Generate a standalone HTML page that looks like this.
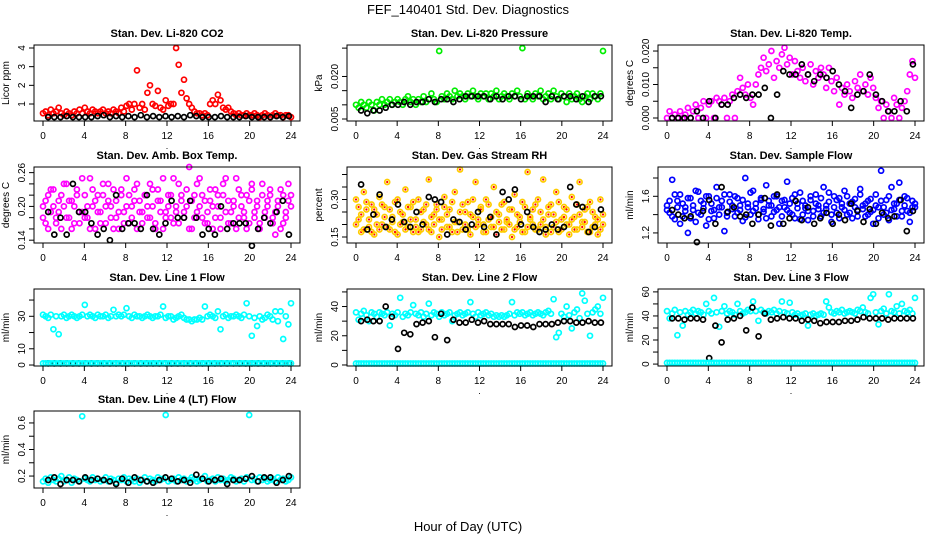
<!DOCTYPE html>
<html><head><meta charset="utf-8"><style>
html,body{margin:0;padding:0;background:#fff;}
svg{display:block;font-family:"Liberation Sans",sans-serif;}
</style></head><body>
<svg id="chart" width="936" height="540" viewBox="0 0 936 540">
<text x="468" y="14" text-anchor="middle" font-size="13">FEF_140401  Std. Dev. Diagnostics</text>
<text x="468" y="531" text-anchor="middle" font-size="13">Hour of Day (UTC)</text>
</svg>
<script>
const hourTicks=[0,4,8,12,16,20,24];
const co2Red=[0.5,0.6,0.4,0.7,0.5,0.6,0.8,0.5,0.4,0.6,0.5,0.4,0.6,0.5,0.7,0.5,0.8,0.6,0.5,0.7,0.6,0.5,0.6,0.7,0.5,0.6,0.5,0.7,0.6,0.5,0.8,0.6,0.9,1.0,0.7,1.0,2.8,0.8,1.0,0.7,1.6,2.0,1.0,0.9,1.7,0.8,0.7,1.2,0.9,1.0,1.0,4.0,3.1,1.6,2.3,1.3,1.0,0.8,0.6,0.5,0.5,0.4,0.5,0.4,1.0,1.2,1.0,1.5,1.2,0.8,0.7,0.8,0.6,0.5,0.4,0.5,0.4,0.4,0.5,0.4,0.4,0.5,0.4,0.3,0.4,0.5,0.4,0.3,0.4,0.5,0.4,0.4,0.3,0.4,0.4,0.3];
const co2Black=[0.3,0.3,0.3,0.35,0.3,0.3,0.3,0.3,0.35,0.4,0.3,0.35,0.3,0.35,0.3,0.4,0.3,0.35,0.3,0.35,0.3,0.35,0.3,0.4,0.35,0.3,0.3,0.3,0.35,0.3,0.3,0.3,0.35,0.3,0.3,0.3,0.3,0.35,0.3,0.35];
const presGreen=[0.010,0.009,0.011,0.010,0.009,0.011,0.010,0.008,0.011,0.010,0.012,0.010,0.011,0.012,0.010,0.011,0.012,0.011,0.010,0.012,0.013,0.011,0.012,0.010,0.012,0.011,0.013,0.011,0.012,0.014,0.012,0.011,0.029,0.013,0.012,0.014,0.013,0.012,0.015,0.013,0.014,0.013,0.012,0.014,0.013,0.015,0.013,0.012,0.014,0.013,0.014,0.012,0.014,0.013,0.015,0.012,0.013,0.014,0.013,0.012,0.014,0.013,0.015,0.013,0.030,0.012,0.014,0.013,0.012,0.014,0.013,0.015,0.012,0.013,0.014,0.012,0.015,0.013,0.012,0.014,0.013,0.011,0.014,0.012,0.013,0.014,0.012,0.011,0.013,0.014,0.012,0.014,0.013,0.012,0.014,0.029];
const presBlack=[0.008,0.007,0.008,0.008,0.009,0.010,0.010,0.011,0.010,0.011,0.011,0.012,0.011,0.012,0.012,0.011,0.012,0.013,0.013,0.013,0.013,0.012,0.013,0.012,0.013,0.013,0.012,0.013,0.013,0.013,0.011,0.013,0.012,0.013,0.013,0.012,0.013,0.011,0.013,0.013];
const tempMag=[0.000,0.002,0.000,0.001,0.000,0.002,0.000,0.001,0.003,0.000,0.002,0.004,0.000,0.003,0.005,0.000,0.004,0.005,0.000,0.006,0.005,0.004,0.006,0.000,0.005,0.007,0.000,0.008,0.012,0.009,0.007,0.010,0.006,0.004,0.010,0.013,0.015,0.018,0.014,0.016,0.020,0.012,0.017,0.015,0.019,0.021,0.016,0.018,0.013,0.017,0.014,0.012,0.015,0.011,0.013,0.016,0.010,0.014,0.012,0.015,0.013,0.009,0.015,0.011,0.008,0.012,0.004,0.009,0.007,0.010,0.008,0.006,0.011,0.009,0.013,0.008,0.010,0.007,0.012,0.009,0.006,0.003,0.005,0.000,0.004,0.002,0.000,0.006,0.004,0.000,0.003,0.005,0.008,0.013,0.017,0.012];
const tempBlack=[0,0,0,0,0.002,0,0.005,0,0.004,0.004,0.006,0.007,0.006,0.007,0.007,0.009,0,0.007,0.014,0.013,0.013,0.016,0.013,0.011,0.013,0.012,0.014,0.010,0.008,0.003,0.007,0.008,0.013,0.007,0.005,0.002,0.002,0.005,0.002,0.016];
const ambMagA=[0.20,0.17,0.22,0.19,0.23,0.18,0.21,0.16,0.20,0.24,0.18,0.21,0.17,0.22,0.19,0.25,0.18,0.20,0.16,0.23,0.21,0.19,0.17,0.22,0.20,0.24,0.18,0.16,0.21,0.19,0.23,0.17,0.20,0.22,0.18,0.21,0.24,0.19,0.17,0.22,0.20,0.18,0.23,0.16,0.21,0.19,0.25,0.18,0.20,0.22,0.17,0.19,0.24,0.21,0.18,0.20,0.27,0.16,0.22,0.19,0.25,0.18,0.21,0.17,0.23,0.20,0.18,0.22,0.16,0.24,0.19,0.21,0.17,0.20,0.25,0.18,0.22,0.19,0.16,0.21,0.23,0.18,0.20,0.17,0.24,0.19,0.21,0.22,0.18,0.15,0.20,0.23,0.17,0.19,0.21,0.22];
const ambMagB=[0.18,0.21,0.16,0.23,0.20,0.17,0.19,0.22,0.24,0.18,0.21,0.16,0.20,0.23,0.17,0.19,0.22,0.18,0.25,0.20,0.16,0.22,0.19,0.24,0.17,0.21,0.20,0.23,0.18,0.16,0.22,0.19,0.25,0.17,0.20,0.23,0.16,0.21,0.19,0.22,0.18,0.24,0.20,0.17,0.23,0.21,0.16,0.19,0.22,0.18,0.25,0.20,0.17,0.22,0.19,0.23,0.16,0.21,0.18,0.24,0.20,0.22,0.17,0.19,0.21,0.16,0.23,0.20,0.18,0.22,0.25,0.17,0.19,0.21,0.16,0.23,0.20,0.18,0.22,0.17,0.24,0.19,0.21,0.16,0.22,0.18,0.20,0.23,0.17,0.19,0.21,0.16,0.22,0.18,0.24,0.20];
const ambBlack=[0.19,0.15,0.18,0.15,0.24,0.19,0.19,0.17,0.15,0.16,0.14,0.22,0.16,0.17,0.17,0.16,0.22,0.16,0.15,0.17,0.21,0.18,0.18,0.21,0.18,0.15,0.16,0.15,0.20,0.16,0.17,0.17,0.17,0.13,0.16,0.18,0.17,0.19,0.21,0.15];
const rhA=[0.30,0.22,0.17,0.33,0.26,0.19,0.28,0.16,0.24,0.31,0.20,0.27,0.37,0.18,0.23,0.29,0.16,0.25,0.21,0.34,0.19,0.27,0.17,0.22,0.30,0.18,0.26,0.20,0.38,0.17,0.24,0.28,0.15,0.22,0.31,0.19,0.26,0.17,0.33,0.21,0.42,0.18,0.25,0.29,0.16,0.23,0.37,0.20,0.27,0.17,0.30,0.22,0.19,0.35,0.16,0.24,0.28,0.18,0.21,0.26,0.15,0.32,0.19,0.23,0.29,0.17,0.41,0.22,0.26,0.18,0.30,0.20,0.38,0.16,0.24,0.28,0.19,0.33,0.17,0.22,0.27,0.20,0.16,0.31,0.23,0.18,0.37,0.21,0.26,0.17,0.29,0.19,0.23,0.16,0.30,0.20];
const rhB=[0.20,0.27,0.24,0.18,0.29,0.22,0.17,0.26,0.20,0.18,0.28,0.23,0.19,0.26,0.21,0.17,0.30,0.20,0.24,0.18,0.27,0.22,0.29,0.19,0.17,0.25,0.21,0.28,0.18,0.23,0.20,0.26,0.22,0.18,0.27,0.24,0.19,0.29,0.21,0.17,0.25,0.28,0.20,0.18,0.24,0.30,0.19,0.22,0.26,0.20,0.17,0.28,0.23,0.19,0.25,0.21,0.18,0.29,0.22,0.20,0.26,0.18,0.24,0.21,0.17,0.27,0.19,0.23,0.20,0.28,0.18,0.25,0.22,0.19,0.27,0.17,0.24,0.21,0.29,0.18,0.23,0.26,0.20,0.22,0.18,0.28,0.24,0.19,0.21,0.27,0.17,0.25,0.20,0.22,0.18,0.24];
const rhBlack=[0.36,0.18,0.24,0.32,0.19,0.22,0.28,0.21,0.19,0.25,0.20,0.31,0.30,0.29,0.16,0.22,0.21,0.18,0.20,0.25,0.19,0.23,0.16,0.33,0.30,0.34,0.20,0.25,0.19,0.17,0.18,0.20,0.18,0.19,0.35,0.28,0.27,0.17,0.19,0.26];
const flowBlueA=[1.50,1.42,1.78,1.35,1.55,1.62,1.38,1.48,1.20,1.58,1.45,1.32,1.65,1.40,1.52,1.28,1.60,1.44,1.36,1.70,1.48,1.55,1.22,1.42,1.62,1.50,1.38,1.58,1.45,1.33,1.80,1.52,1.40,1.66,1.47,1.35,1.56,1.43,1.72,1.50,1.38,1.60,1.45,1.30,1.55,1.48,1.76,1.42,1.58,1.36,1.52,1.64,1.40,1.47,1.34,1.56,1.44,1.62,1.50,1.38,1.70,1.46,1.54,1.32,1.60,1.42,1.58,1.48,1.66,1.40,1.52,1.36,1.57,1.45,1.68,1.50,1.38,1.55,1.43,1.30,1.62,1.48,1.88,1.40,1.56,1.34,1.70,1.46,1.52,1.75,1.38,1.60,1.44,1.32,1.55,1.48];
const flowBlueB=[1.45,1.55,1.38,1.62,1.48,1.30,1.52,1.44,1.58,1.36,1.50,1.66,1.42,1.55,1.47,1.60,1.35,1.52,1.45,1.58,1.40,1.48,1.62,1.38,1.54,1.46,1.60,1.42,1.50,1.56,1.37,1.48,1.64,1.44,1.52,1.40,1.58,1.46,1.36,1.55,1.50,1.43,1.60,1.48,1.38,1.56,1.45,1.52,1.40,1.62,1.47,1.35,1.55,1.50,1.44,1.60,1.38,1.52,1.46,1.58,1.42,1.50,1.64,1.40,1.48,1.56,1.36,1.52,1.45,1.60,1.42,1.54,1.48,1.38,1.62,1.46,1.52,1.40,1.57,1.45,1.50,1.36,1.55,1.48,1.42,1.60,1.45,1.52,1.38,1.56,1.44,1.50,1.58,1.42,1.48,1.52];
const flowBlack=[1.45,1.40,1.36,1.38,1.10,1.44,1.56,1.30,1.70,1.43,1.48,1.38,1.40,1.30,1.40,1.58,1.28,1.62,1.30,1.36,1.55,1.34,1.48,1.30,1.36,1.42,1.30,1.40,1.34,1.52,1.44,1.32,1.46,1.30,1.42,1.36,1.38,1.56,1.22,1.44];
const lowOnes=[1,1,1,1,1,1,1,1,1,1,1,1,1,1,1,1,1,1,1,1,1,1,1,1,1,1,1,1,1,1,1,1,1,1,1,1,1,1,1,1,1,1,1,1,1,1,1,1,1,1,1,1,1,1,1,1,1,1,1,1,1,1,1,1,1,1,1,1,1,1,1,1,1,1,1,1,1,1,1,1,1,1,1,1,1,1,1,1,1,1,1,1,1,1,1,1];
const line1Cyan=[31,30,29,31,22,30,19,30,31,29,30,31,30,29,30,31,37,30,31,30,29,31,30,30,31,29,30,34,30,31,30,31,35,30,29,31,30,30,29,30,31,30,29,30,30,31,36,29,30,30,28,29,30,31,29,28,28,27,28,28,29,28,36,30,31,30,29,33,22,30,31,29,30,30,31,30,29,31,38,30,18,29,24,30,28,29,31,30,28,33,27,33,16,30,25,38];
const line1Black=[1,1,1,1,1,1,1,1,1,1,1,1,1,1,1,1,1,1,1,1,1,1,1,1,1,1,1,1,1,1,1,1,1,1,1,1,1,1,1,1];
const line2Cyan=[36,31,35,37,34,30,36,35,33,36,35,34,36,27,35,34,36,46,33,35,34,36,41,35,34,36,33,35,42,34,36,35,33,36,34,35,36,30,34,35,36,34,35,36,43,35,33,36,34,35,36,34,35,33,34,33,34,33,34,35,43,34,36,35,36,34,35,36,34,35,36,35,34,36,37,35,45,19,22,35,33,40,34,25,36,38,32,49,44,35,20,36,38,40,35,46];
const line2Black=[30,31,30,30,40,33,11,22,21,28,29,30,19,35,17,31,29,29,31,29,30,28,28,28,28,26,27,27,26,28,28,28,29,30,30,29,29,30,29,29];
const line3Cyan=[44,38,42,45,24,43,32,44,41,43,45,42,44,43,41,50,44,42,55,43,31,44,48,42,44,43,41,50,44,42,43,45,44,52,44,36,45,43,42,44,43,45,42,44,52,43,42,51,43,41,42,40,41,42,32,41,42,40,41,42,41,52,47,43,42,44,43,45,42,43,44,43,42,45,44,47,43,42,55,58,43,33,44,46,42,58,44,43,48,42,50,44,43,45,42,55];
const line3Black=[38,38,37,38,38,37,5,32,18,37,38,40,28,47,23,42,37,38,39,38,38,36,37,36,34,35,35,35,36,36,37,39,38,38,38,37,38,38,38,38];
const line4Cyan=[0.16,0.18,0.15,0.19,0.17,0.16,0.18,0.20,0.16,0.17,0.19,0.15,0.18,0.17,0.16,0.65,0.18,0.17,0.16,0.19,0.17,0.18,0.16,0.17,0.19,0.16,0.18,0.17,0.15,0.18,0.17,0.19,0.16,0.18,0.17,0.16,0.18,0.15,0.17,0.19,0.16,0.18,0.17,0.16,0.19,0.17,0.18,0.66,0.16,0.17,0.18,0.16,0.19,0.17,0.18,0.16,0.17,0.19,0.18,0.16,0.17,0.18,0.20,0.16,0.17,0.18,0.16,0.19,0.17,0.18,0.16,0.17,0.19,0.18,0.16,0.17,0.18,0.16,0.19,0.66,0.17,0.18,0.16,0.19,0.17,0.18,0.16,0.17,0.18,0.16,0.19,0.17,0.18,0.16,0.17,0.19];
const line4Black=[0.17,0.19,0.14,0.17,0.17,0.16,0.19,0.17,0.18,0.17,0.16,0.14,0.18,0.15,0.19,0.17,0.16,0.15,0.17,0.19,0.18,0.16,0.17,0.15,0.21,0.18,0.16,0.17,0.18,0.14,0.17,0.17,0.18,0.20,0.16,0.19,0.19,0.15,0.17,0.20];

const NS='http://www.w3.org/2000/svg';
const svg=document.getElementById('chart');
const colsL=[34,347,658],colsR=[300,612,924],rowsT=[45,167,289,411],rowsB=[121,243,366,488];
function el(tag,attrs,parent){const e=document.createElementNS(NS,tag);for(const k in attrs)e.setAttribute(k,attrs[k]);(parent||svg).appendChild(e);return e;}
const panels=[
 {r:0,c:0,title:'Stan. Dev. Li-820 CO2',ylab:'Licor ppm',dom:[0.09,4.16],ticks:[1,2,3,4],labels:[1,2,3,4],fmt:v=>String(v),series:[[co2Red,'#ff0000'],[co2Black,'#000']]},
 {r:0,c:1,title:'Stan. Dev. Li-820 Pressure',ylab:'kPa',dom:[0.0043,0.0311],ticks:[0.005,0.01,0.015,0.02,0.03],labels:[0.005,0.02],fmt:v=>v.toFixed(3),series:[[presGreen,'#00ee00'],[presBlack,'#000']]},
 {r:0,c:2,title:'Stan. Dev. Li-820 Temp.',ylab:'degrees C',dom:[-0.0009,0.0218],ticks:[0,0.005,0.01,0.015,0.02],labels:[0,0.01,0.02],fmt:v=>v.toFixed(3),series:[[tempMag,'#ff00ff'],[tempBlack,'#000']]},
 {r:1,c:0,title:'Stan. Dev. Amb. Box Temp.',ylab:'degrees C',dom:[0.135,0.27],ticks:[0.14,0.16,0.18,0.2,0.22,0.24,0.26],labels:[0.14,0.2,0.26],fmt:v=>v.toFixed(2),series:[[ambMagA,'#ff00ff'],[ambMagB,'#ff00ff'],[ambBlack,'#000']]},
 {r:1,c:1,title:'Stan. Dev. Gas Stream RH',ylab:'percent',dom:[0.126,0.43],ticks:[0.15,0.2,0.25,0.3,0.35,0.4],labels:[0.15,0.3],fmt:v=>v.toFixed(2),series:[[rhA,'#ffcc00',true],[rhB,'#ffcc00',true],[rhBlack,'#000']]},
 {r:1,c:2,title:'Stan. Dev. Sample Flow',ylab:'ml/min',dom:[1.09,1.92],ticks:[1.2,1.4,1.6,1.8],labels:[1.2,1.6],fmt:v=>v.toFixed(1),series:[[flowBlueA,'#0000ff'],[flowBlueB,'#0000ff'],[flowBlack,'#000']]},
 {r:2,c:0,title:'Stan. Dev. Line 1 Flow',ylab:'ml/min',dom:[-0.6,46.8],ticks:[0,10,20,30,40],labels:[0,10,30],fmt:v=>String(v),series:[[line1Cyan,'#00ffff'],[line1Black,'#000'],[lowOnes,'#00ffff']]},
 {r:2,c:1,title:'Stan. Dev. Line 2 Flow',ylab:'ml/min',dom:[-0.7,52],ticks:[0,10,20,30,40,50],labels:[0,20,40],fmt:v=>String(v),series:[[line2Cyan,'#00ffff'],[line2Black,'#000'],[lowOnes,'#00ffff']]},
 {r:2,c:2,title:'Stan. Dev. Line 3 Flow',ylab:'ml/min',dom:[-1.6,62.4],ticks:[0,10,20,30,40,50,60],labels:[0,20,40,60],fmt:v=>String(v),series:[[line3Cyan,'#00ffff'],[line3Black,'#000'],[lowOnes,'#00ffff']]},
 {r:3,c:0,title:'Stan. Dev. Line 4 (LT) Flow',ylab:'ml/min',dom:[0.11,0.69],ticks:[0.2,0.3,0.4,0.5,0.6],labels:[0.2,0.4,0.6],fmt:v=>v.toFixed(1),series:[[line4Cyan,'#00ffff'],[line4Black,'#000']]}
];
panels.forEach((p,pi)=>{
 const L=colsL[p.c],R=colsR[p.c],T=rowsT[p.r],B=rowsB[p.r];
 const g=el('g',{});
 
 
 const xs=v=>L+9+v*(R-L-18)/24;
 const ys=v=>B-(v-p.dom[0])/(p.dom[1]-p.dom[0])*(B-T);
 const t=el('text',{x:(L+R)/2,y:T-8,'text-anchor':'middle','font-size':11,'font-weight':'bold'},g);
 t.textContent=p.title;
 
 
 const yl=el('text',{x:0,y:0,'text-anchor':'middle','font-size':10,transform:`translate(${L-25},${(T+B)/2}) rotate(-90)`},g);
 yl.textContent=p.ylab;
 
 
 const pts=el('g',{},g);
 p.series.forEach(s=>{
  const arr=s[0],n=arr.length,black=s[1]==='#000';
  arr.forEach((v,i)=>{
   const hx=black?0.5+i*23.3/(n-1):i*24/(n-1);
   const c=el('circle',{cx:xs(hx).toFixed(1),cy:ys(v).toFixed(1),r:2.5,fill:'none',stroke:s[1],'stroke-width':1.7},pts);
   
   
   if(s[2]){const d=el('circle',{cx:xs(hx).toFixed(1),cy:ys(v).toFixed(1),r:1.1,fill:'#ff0000'},pts);
    
    }
  });
 });
 const box=el('rect',{x:L,y:T,width:R-L,height:B-T,fill:'none',stroke:'#000','stroke-width':1},g);
 
 
 el('line',{x1:xs(0),x2:xs(24),y1:B,y2:B,stroke:'#000'},g);
 hourTicks.forEach(h=>{
  el('line',{x1:xs(h),x2:xs(h),y1:B,y2:B+5,stroke:'#000'},g);
  const tl=el('text',{x:xs(h),y:B+18,'text-anchor':'middle','font-size':10},g);
  tl.textContent=h;
  
  
 });
 const dot=el('text',{x:(L+R)/2,y:B+28,'text-anchor':'middle','font-size':9},g);
 dot.textContent='.';
 
 
 el('line',{x1:L,x2:L,y1:ys(p.ticks[0]),y2:ys(p.ticks[p.ticks.length-1]),stroke:'#000'},g);
 p.ticks.forEach(v=>el('line',{x1:L-5,x2:L,y1:ys(v),y2:ys(v),stroke:'#000'},g));
 p.labels.forEach(v=>{
  const tl=el('text',{x:0,y:0,'text-anchor':'middle','font-size':10,transform:`translate(${L-9},${ys(v)}) rotate(-90)`},g);
  tl.textContent=p.fmt(v);
  
  
 });
});
</script>
</body></html>
